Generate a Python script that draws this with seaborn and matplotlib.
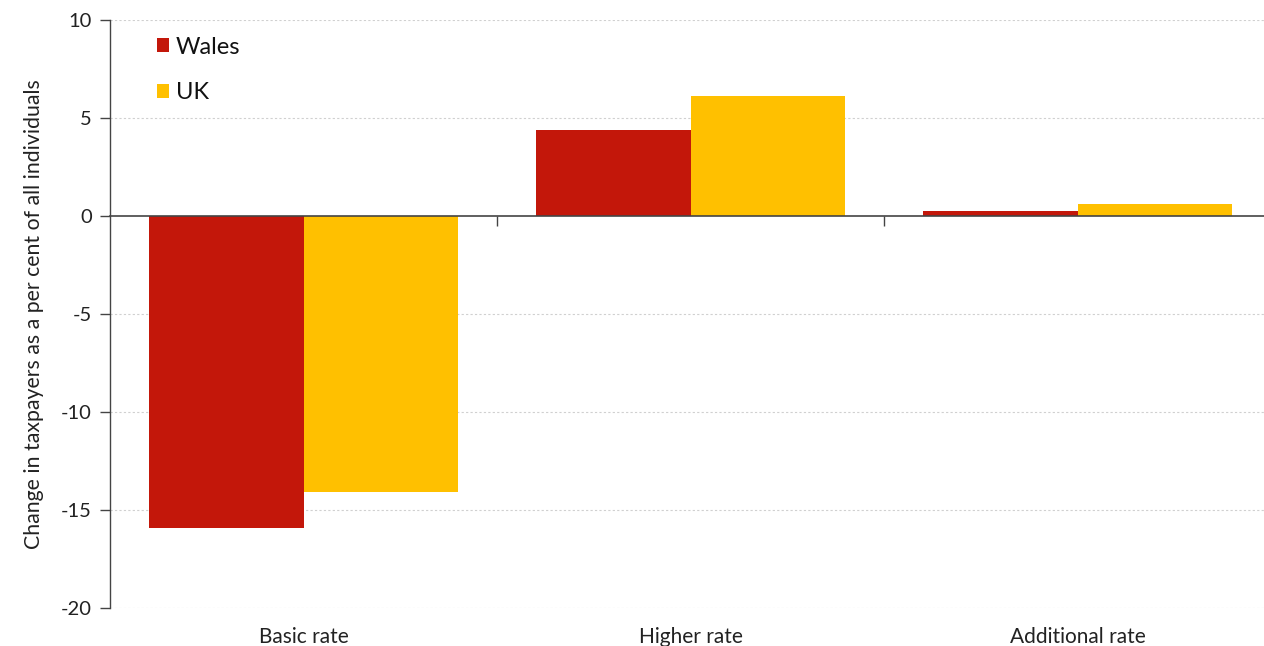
import matplotlib
matplotlib.use("Agg")
import matplotlib.pyplot as plt
import seaborn as sns
import pandas as pd
from matplotlib.patches import Patch

categories = ["Basic rate", "Higher rate", "Additional rate"]
wales = [-15.9, 4.4, 0.25]
uk = [-14.1, 6.1, 0.6]
series = ["Wales", "UK"]
colors = ["#C3170A", "#FFC000"]
yticks = [-20, -15, -10, -5, 0, 5, 10]

df = pd.DataFrame({
    "category": categories * 2,
    "value": wales + uk,
    "series": ["Wales"] * 3 + ["UK"] * 3,
})

sns.set_theme(style="white")
plt.rcParams["font.family"] = ["Lato", "DejaVu Sans"]

fig = plt.figure(figsize=(12.64, 6.46), dpi=100)
ax = fig.add_axes([110 / 1264, 1 - 608 / 646, 1161 / 1264, (608 - 20) / 646])

sns.barplot(data=df, x="category", y="value", hue="series", hue_order=series,
            palette=colors, width=0.8, saturation=1, ax=ax, legend=False,
            edgecolor="none")

ax.set_ylim(-20, 10)
ax.set_xlim(-0.5, 2.5)
ax.set_yticks(yticks)
ax.set_yticklabels([str(t) for t in yticks], fontsize=14.5, color="#222222")
for t in yticks:
    if t != 0:
        ax.axhline(t, color="#d0d0d0", lw=0.8, ls=(0, (2, 2)), zorder=0)

ax.set_xlabel("")
ax.set_ylabel("Change in taxpayers as a per cent of all individuals", fontsize=15.3,
              color="#222222", labelpad=12)
ax.tick_params(axis="y", left=True, length=7, width=1, color="#444444",
               direction="out", pad=6)

# zero axis with category boundary ticks
ax.spines["bottom"].set_position(("data", 0))
ax.spines["bottom"].set_color("#444444")
ax.spines["bottom"].set_linewidth(1.2)
ax.spines["bottom"].set_zorder(5)
ax.set_xticks([0.5, 1.5])
ax.set_xticklabels([])
ax.tick_params(axis="x", bottom=True, length=7, width=1, color="#444444", direction="out")

for s in ["top", "right"]:
    ax.spines[s].set_visible(False)
ax.spines["left"].set_color("#444444")
ax.spines["left"].set_linewidth(1)

# category labels at the bottom of the plot area
sec = ax.secondary_xaxis("bottom")
sec.set_xticks(range(len(categories)))
sec.set_xticklabels(categories, fontsize=15, color="#222222")
sec.tick_params(length=0, pad=14)
sec.spines["bottom"].set_visible(False)

handles = [Patch(facecolor=c, edgecolor="none") for c in colors]
ax.legend(handles, series, loc="upper left", bbox_to_anchor=(0.022, 1.008), frameon=False,
          fontsize=17, handlelength=0.5, handleheight=0.5, handletextpad=0.3,
          labelspacing=1.05, labelcolor="#111111")

fig.savefig("out.png", dpi=100)
